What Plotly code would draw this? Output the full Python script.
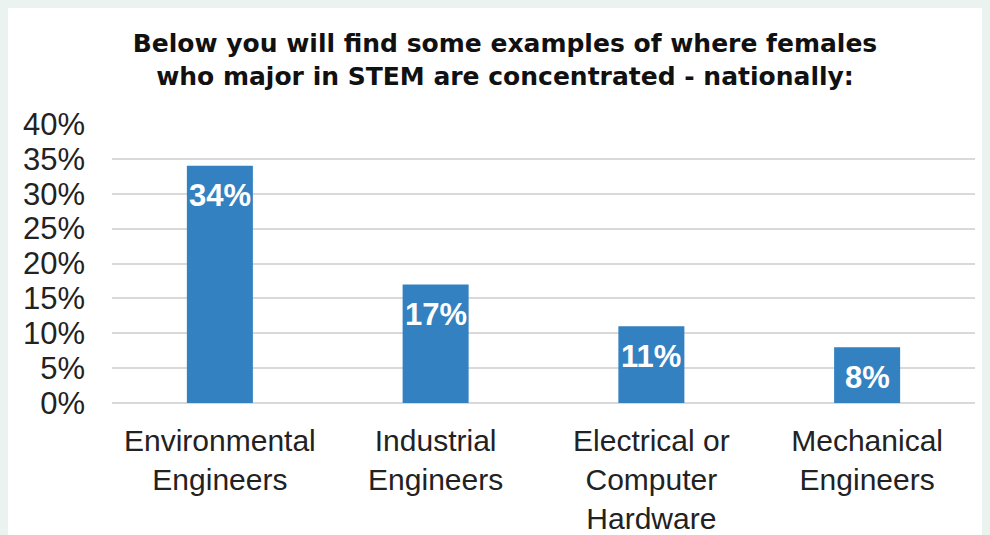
import plotly.graph_objects as go

categories = ["Environmental<br>Engineers", "Industrial<br>Engineers",
              "Electrical or<br>Computer<br>Hardware", "Mechanical<br>Engineers"]
values = [34, 17, 11, 8]
labels = ["34%", "17%", "11%", "8%"]
title_text = "Below you will find some examples of where females<br>who major in STEM are concentrated - nationally:"

# the page body keeps its 8px margin, which forms the light border on top/left
W, H = 982, 527
ml, mr, mt, mb = 104, 15, 116, 132

fig = go.Figure()
fig.add_trace(go.Bar(
    x=categories, y=values,
    marker=dict(color="#3381C1", line=dict(width=0)),
    width=0.306,
    hoverinfo="skip",
))

for c, v, t in zip(categories, values, labels):
    fig.add_annotation(x=c, y=v, text="<b>" + t + "</b>", showarrow=False,
                       yshift=-30, xanchor="center", yanchor="middle",
                       font=dict(family="Liberation Sans, Arial", size=31, color="white"))

fig.update_layout(
    width=W, height=H,
    margin=dict(l=ml, r=mr, t=mt, b=mb, pad=0, autoexpand=False),
    paper_bgcolor="white",
    plot_bgcolor="white",
    showlegend=False,
    title=dict(text="<b>" + title_text + "</b>", xref="container", yref="container",
               x=497 / W, xanchor="center", y=1 - 44 / H, yanchor="top",
               font=dict(family="DejaVu Sans", size=25, color="#111111")),
    font=dict(family="Liberation Sans, Arial", color="#222222"),
    bargap=0.69,
)
fig.update_xaxes(
    tickfont=dict(size=30, color="#222222"),
    showgrid=False, showline=False, ticks="", ticklabelstandoff=17,
    automargin=False, fixedrange=True,
)
fig.update_yaxes(
    range=[0, 40], dtick=5, tick0=0, ticksuffix="%",
    tickfont=dict(size=31, color="#222222"),
    showgrid=True, gridcolor="#D9D9D9", gridwidth=1.5,
    zeroline=True, zerolinecolor="#D9D9D9", zerolinewidth=1.5,
    showline=False, ticks="", ticklabelstandoff=26,
    automargin=False, fixedrange=True,
)

fig.write_html("out.html",
               post_script="document.body.style.background='#EAF3F0';")
